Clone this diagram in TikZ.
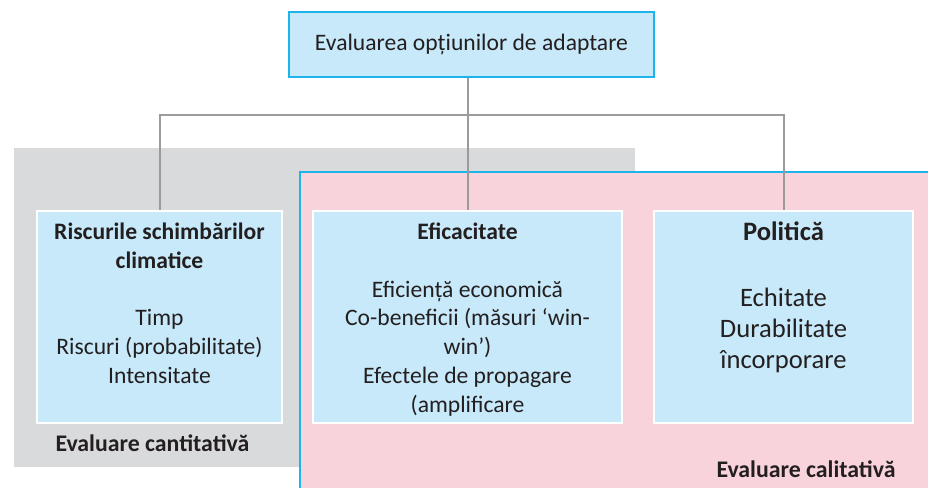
\documentclass[tikz,border=0pt]{standalone}
\usepackage{fontspec}
\setmainfont{Carlito}
\definecolor{boxblue}{HTML}{C7E9F9}
\definecolor{rimcyan}{HTML}{1CB4EA}
\definecolor{zonegray}{HTML}{D9DADC}
\definecolor{zonepink}{HTML}{F9D3DB}
\definecolor{linegray}{HTML}{9B9B9B}
\definecolor{inkdark}{HTML}{231F20}

\begin{document}
\begin{tikzpicture}[x=1pt,y=-1pt,
  cell/.style={draw=white,line width=2pt,fill=boxblue,inner sep=0pt},
  conn/.style={linegray,line width=2pt},
  body/.style={anchor=north,align=center,text=inkdark,inner sep=0pt,
    font=\fontsize{23.6}{28.9}\selectfont}]
  \useasboundingbox (0,0) rectangle (928,487);

  % zones
  \fill[zonegray] (14,148) rectangle (635,467);
  \filldraw[fill=zonepink,draw=rimcyan,line width=2pt] (300,172) rectangle (960,520);

  % boxes
  \node[cell,draw=rimcyan,minimum width=365pt,minimum height=65pt,
    text=inkdark,font=\fontsize{23.6}{28}\selectfont] (top) at (471.5,44.5)
    {Evaluarea opțiunilor de adaptare};
  \node[cell,minimum width=245pt,minimum height=212pt] (risk) at (159.5,317) {};
  \node[cell,minimum width=309pt,minimum height=212pt] (eff) at (467.5,317) {};
  \node[cell,minimum width=259pt,minimum height=212pt] (pol) at (783.5,317) {};

  % texts
  \node[body] (risktxt) at (159.5,222.5) {\textbf{Riscurile schimbărilor}\\
    \textbf{climatice}\\[28.9pt] Timp\\ Riscuri (probabilitate)\\ Intensitate};
  \node[body] (efftxt) at (467.5,222.5) {\textbf{Eficacitate}\\[28.9pt]
    Eficiență economică\\ Co-beneficii (măsuri ‘win-\\ win’)\\
    Efectele de propagare\\ (amplificare};
  \node[body,font=\fontsize{26.6}{31.2}\selectfont] (poltxt) at (783.5,222)
    {\textbf{Politică}\\[34pt] Echitate\\ Durabilitate\\ încorporare};

  \node[anchor=west,text=inkdark,font=\bfseries\fontsize{23.8}{28}\selectfont]
    (cantlbl) at (52,443) {Evaluare cantitativă};
  \node[anchor=east,text=inkdark,font=\bfseries\fontsize{23.8}{28}\selectfont]
    (callbl) at (899,469.5) {Evaluare calitativă};

  % connectors
  \coordinate (hub) at (467.5,115);
  \draw[conn] (top.south -| eff.north) -- (eff.north);
  \draw[conn] (risk.north) -- (risk.north |- hub) -- (pol.north |- hub) -- (pol.north);
\end{tikzpicture}
\end{document}
